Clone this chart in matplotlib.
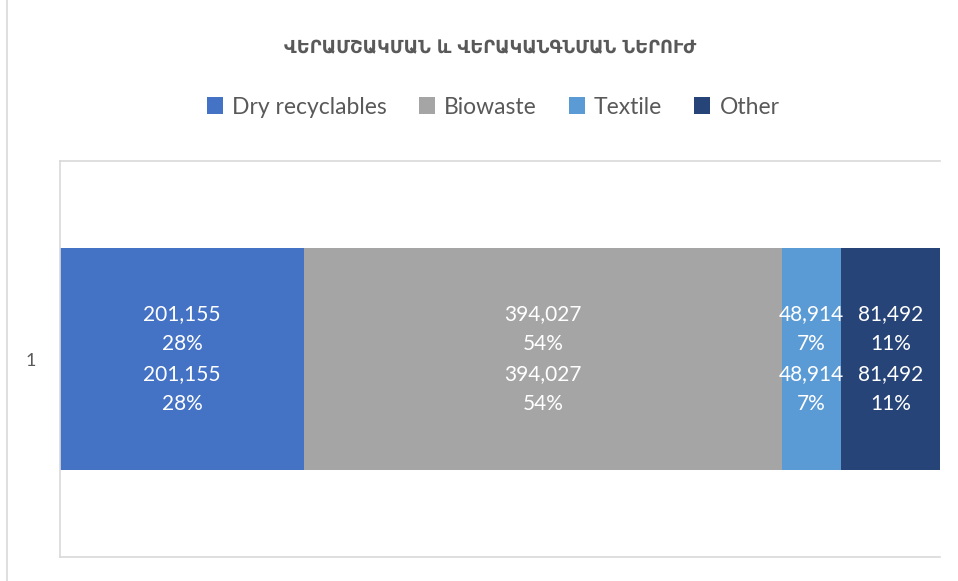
import matplotlib.pyplot as plt
from matplotlib.patches import Patch
from matplotlib.lines import Line2D

# Data
categories = ['Dry recyclables', 'Biowaste', 'Textile', 'Other']
values = [201155, 394027, 48914, 81492]
percents = ['28%', '54%', '7%', '11%']
colors = ['#4472C4', '#A5A5A5', '#5B9BD5', '#264478']
title = 'ՎԵՐԱՄՇԱԿՄԱՆ և ՎԵՐԱԿԱՆԳՆՄԱՆ ՆԵՐՈՒԺ'
row_label = '1'

TEXT = '#595959'
GRID = '#D9D9D9'

plt.rcParams['font.family'] = ['Lato', 'DejaVu Sans']

fig = plt.figure(figsize=(9.58, 5.81), dpi=100)
ax = fig.add_axes([60 / 958, 1 - 557 / 581, 880 / 958, 396 / 581])

total = sum(values)
left = 0
for cat, v, p, c in zip(categories, values, percents, colors):
    ax.barh(0, v, left=left, height=0.56, color=c, label=cat)
    lbl = f'{v:,}\n{p}\n{v:,}\n{p}'
    ax.text(left + v / 2, 0, lbl, ha='center', va='center', color='white',
            fontsize=15, linespacing=1.62)
    left += v

ax.set_xlim(0, total)
ax.set_ylim(-0.5, 0.5)
ax.set_xticks([])
ax.set_yticks([0])
ax.set_yticklabels([row_label], fontsize=13, color=TEXT)
ax.tick_params(axis='y', length=0, pad=17)
for s in ['top', 'left', 'bottom']:
    ax.spines[s].set_color(GRID)
    ax.spines[s].set_linewidth(1.2)
ax.spines['right'].set_visible(False)

# outer chart border (left edge only visible)
fig.add_artist(Line2D([7 / 958, 7 / 958], [0, 1], color=GRID, lw=1.2))

fig.text(490 / 958, 1 - 48 / 581, title, ha='center', va='center',
         fontsize=12.8, fontweight='bold', color=TEXT, family='DejaVu Sans')

handles = [Patch(facecolor=c, label=cat) for cat, c in zip(categories, colors)]
fig.legend(handles=handles, loc='center', bbox_to_anchor=(493 / 958, 1 - 107 / 581),
           ncol=4, frameon=False, fontsize=16.5, labelcolor=TEXT,
           handlelength=0.7, handleheight=0.7, handletextpad=0.4, columnspacing=1.4)

fig.savefig('out.png', dpi=100, facecolor='white')
